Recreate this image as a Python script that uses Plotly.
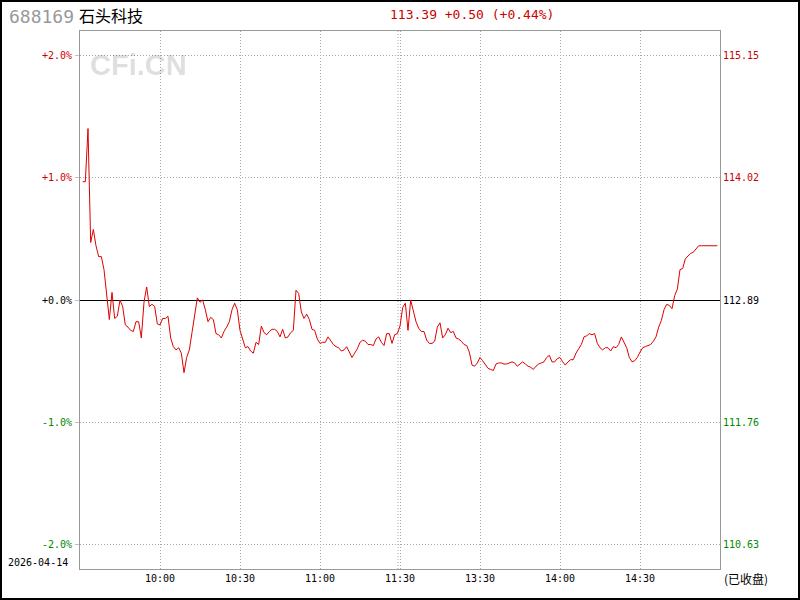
import plotly.graph_objects as go

# ---------------- data ----------------
stock_code = "688169"
stock_name = "石头科技"
trade_date = "2026-04-14"
status_text = "(已收盘)"
prev_close = 112.89

times = [
    "09:31", "09:32", "09:33", "09:34", "09:35", "09:36", "09:37", "09:38", "09:39", "09:40",
    "09:41", "09:42", "09:43", "09:44", "09:45", "09:46", "09:47", "09:48", "09:49", "09:50",
    "09:51", "09:52", "09:53", "09:54", "09:55", "09:56", "09:57", "09:58", "09:59", "10:00",
    "10:01", "10:02", "10:03", "10:04", "10:05", "10:06", "10:07", "10:08", "10:09", "10:10",
    "10:11", "10:12", "10:13", "10:14", "10:15", "10:16", "10:17", "10:18", "10:19", "10:20",
    "10:21", "10:22", "10:23", "10:24", "10:25", "10:26", "10:27", "10:28", "10:29", "10:30",
    "10:31", "10:32", "10:33", "10:34", "10:35", "10:36", "10:37", "10:38", "10:39", "10:40",
    "10:41", "10:42", "10:43", "10:44", "10:45", "10:46", "10:47", "10:48", "10:49", "10:50",
    "10:51", "10:52", "10:53", "10:54", "10:55", "10:56", "10:57", "10:58", "10:59", "11:00",
    "11:01", "11:02", "11:03", "11:04", "11:05", "11:06", "11:07", "11:08", "11:09", "11:10",
    "11:11", "11:12", "11:13", "11:14", "11:15", "11:16", "11:17", "11:18", "11:19", "11:20",
    "11:21", "11:22", "11:23", "11:24", "11:25", "11:26", "11:27", "11:28", "11:29", "11:30",
    "13:01", "13:02", "13:03", "13:04", "13:05", "13:06", "13:07", "13:08", "13:09", "13:10",
    "13:11", "13:12", "13:13", "13:14", "13:15", "13:16", "13:17", "13:18", "13:19", "13:20",
    "13:21", "13:22", "13:23", "13:24", "13:25", "13:26", "13:27", "13:28", "13:29", "13:30",
    "13:31", "13:32", "13:33", "13:34", "13:35", "13:36", "13:37", "13:38", "13:39", "13:40",
    "13:41", "13:42", "13:43", "13:44", "13:45", "13:46", "13:47", "13:48", "13:49", "13:50",
    "13:51", "13:52", "13:53", "13:54", "13:55", "13:56", "13:57", "13:58", "13:59", "14:00",
    "14:01", "14:02", "14:03", "14:04", "14:05", "14:06", "14:07", "14:08", "14:09", "14:10",
    "14:11", "14:12", "14:13", "14:14", "14:15", "14:16", "14:17", "14:18", "14:19", "14:20",
    "14:21", "14:22", "14:23", "14:24", "14:25", "14:26", "14:27", "14:28", "14:29", "14:30",
    "14:31", "14:32", "14:33", "14:34", "14:35", "14:36", "14:37", "14:38", "14:39", "14:40",
    "14:41", "14:42", "14:43", "14:44", "14:45", "14:46", "14:47", "14:48", "14:49", "14:50",
    "14:51", "14:52", "14:53", "14:54", "14:55", "14:56", "14:57", "14:58", "14:59",
]

prices = [
    113.98, 113.98, 114.47, 113.42, 113.54, 113.39, 113.29, 113.29, 113.17, 112.92,
    112.71, 112.96, 112.72, 112.74, 112.89, 112.83, 112.66, 112.64, 112.61, 112.60,
    112.69, 112.69, 112.54, 112.87, 113.01, 112.83, 112.85, 112.83, 112.67, 112.66,
    112.72, 112.72, 112.74, 112.54, 112.46, 112.43, 112.45, 112.40, 112.22, 112.36,
    112.43, 112.59, 112.75, 112.91, 112.87, 112.89, 112.80, 112.69, 112.73, 112.71,
    112.58, 112.57, 112.54, 112.60, 112.64, 112.69, 112.80, 112.86, 112.80, 112.61,
    112.53, 112.45, 112.46, 112.42, 112.40, 112.50, 112.48, 112.65, 112.59, 112.57,
    112.60, 112.62, 112.62, 112.60, 112.55, 112.62, 112.54, 112.55, 112.59, 112.61,
    112.98, 112.95, 112.78, 112.72, 112.76, 112.71, 112.62, 112.61, 112.53, 112.49,
    112.50, 112.50, 112.55, 112.51, 112.48, 112.46, 112.45, 112.42, 112.43, 112.46,
    112.41, 112.36, 112.40, 112.44, 112.50, 112.52, 112.51, 112.48, 112.48, 112.47,
    112.53, 112.55, 112.50, 112.47, 112.58, 112.58, 112.49, 112.57, 112.58, 112.65,
    112.82, 112.86, 112.61, 112.89, 112.79, 112.69, 112.63, 112.60, 112.60, 112.52,
    112.49, 112.49, 112.51, 112.64, 112.68, 112.54, 112.57, 112.63, 112.59, 112.60,
    112.54, 112.53, 112.51, 112.48, 112.47, 112.41, 112.29, 112.28, 112.31, 112.36,
    112.33, 112.30, 112.26, 112.25, 112.24, 112.30, 112.31, 112.31, 112.30, 112.30,
    112.31, 112.32, 112.31, 112.28, 112.30, 112.32, 112.30, 112.28, 112.27, 112.25,
    112.28, 112.30, 112.31, 112.32, 112.36, 112.38, 112.32, 112.32, 112.35, 112.36,
    112.32, 112.29, 112.32, 112.34, 112.34, 112.40, 112.44, 112.48, 112.55, 112.56,
    112.58, 112.57, 112.58, 112.49, 112.45, 112.43, 112.45, 112.45, 112.42, 112.46,
    112.45, 112.48, 112.55, 112.50, 112.45, 112.36, 112.32, 112.33, 112.36, 112.41,
    112.45, 112.46, 112.47, 112.48, 112.51, 112.55, 112.64, 112.70, 112.80, 112.85,
    112.84, 112.81, 112.93, 112.99, 113.17, 113.18, 113.27, 113.30, 113.32, 113.33,
    113.36, 113.39, 113.39, 113.39, 113.39, 113.39, 113.39, 113.39, 113.39,
]

pct_levels = [2, 1, 0, -1, -2]
left_labels = ["+2.0%", "+1.0%", "+0.0%", "-1.0%", "-2.0%"]
right_labels = ["115.15", "114.02", "112.89", "111.76", "110.63"]
x_tick_labels = ["10:00", "10:30", "11:00", "11:30", "13:30", "14:00", "14:30"]
watermark = "CFi.CN"

# ---------------- styling ----------------
UP = "#cc0000"
DOWN = "#008800"
FLAT = "#000000"
LINE = "#e00000"
GRID = "#a8a8a8"
FRAME = "#999999"
MONO = "DejaVu Sans Mono"
CJK = "Noto Sans CJK SC"
W, H = 800, 600
ML, MR, MT, MB = 80, 80, 31, 31
SPAN = 2.196  # percent shown above/below previous close


def session_minute(t):
    h, m = map(int, t.split(":"))
    v = h * 60 + m
    return v - 570 if v <= 690 else v - 780 + 120


def lvl_color(k):
    return UP if k > 0 else (DOWN if k < 0 else FLAT)


def px(x):
    return (x - ML) / (W - ML - MR)


def py(y):
    return (H - MB - y) / (H - MT - MB)


xs = [session_minute(t) for t in times]
level_prices = [prev_close * (1 + k / 100) for k in pct_levels]
grid_prices = [p for k, p in zip(pct_levels, level_prices) if k != 0]
y_lo = prev_close * (1 - SPAN / 100)
y_hi = prev_close * (1 + SPAN / 100)
half_px = (y_hi - y_lo) / (H - MT - MB) / 2  # align the base line on a pixel row
last = prices[-1]
chg = last - prev_close
chg_pct = chg / prev_close * 100
header = f"{last:.2f} {chg:+.2f} ({chg_pct:+.2f}%)"

fig = go.Figure()
fig.add_trace(go.Scatter(x=xs, y=prices, mode="lines",
                         line=dict(color=LINE, width=1), hoverinfo="skip",
                         showlegend=False))

left_text = [f'<span style="color:{lvl_color(k)}">{t}</span>'
             for k, t in zip(pct_levels, left_labels)]

fig.update_layout(
    width=W, height=H,
    margin=dict(l=ML, r=MR, t=MT, b=MB, pad=0),
    paper_bgcolor="white", plot_bgcolor="white",
    showlegend=False,
    xaxis=dict(range=[0, 240], tickvals=[session_minute(t) if t != "11:30" else 120 for t in x_tick_labels],
               ticktext=x_tick_labels, showgrid=True, gridcolor=GRID, griddash="1px,2px",
               gridwidth=1, zeroline=False, showline=True, mirror=True, linecolor=FRAME,
               linewidth=1, ticks="", tickfont=dict(family=MONO, size=10, color="black"),
               fixedrange=True),
    yaxis=dict(range=[y_lo, y_hi],
               tickvals=level_prices, ticktext=left_text, showgrid=False,
               zeroline=False, showline=True, mirror=True,
               linecolor=FRAME, linewidth=1, ticks="outside", ticklen=4, tickwidth=1,
               tickcolor="#c0c0c0", ticklabelstandoff=1,
               minor=dict(tickmode="array", tickvals=grid_prices, showgrid=True,
                          gridcolor=GRID, griddash="1px,2px", gridwidth=1, ticks=""),
               tickfont=dict(family=MONO, size=10, color="black"), fixedrange=True),
)

shapes = [
    dict(type="line", xref="paper", x0=0, x1=1, yref="y",
         y0=prev_close - half_px, y1=prev_close - half_px,
         line=dict(color="black", width=1), layer="between"),
    dict(type="line", xref="x", x0=119.25, x1=119.25, yref="paper", y0=0, y1=1,
         line=dict(color=GRID, width=1, dash="1px,2px"), layer="below"),
    dict(type="rect", xref="paper", yref="paper",
         x0=px(1), x1=px(W - 1), y0=py(H - 1), y1=py(1),
         line=dict(color="black", width=2), fillcolor="rgba(0,0,0,0)"),
]
fig.update_layout(shapes=shapes)

ann = []
for k, t, p in zip(pct_levels, right_labels, level_prices):
    ann.append(dict(xref="paper", yref="y", x=1, y=p, xshift=1, text=t, showarrow=False,
                    xanchor="left", yanchor="middle",
                    font=dict(family=MONO, size=10, color=lvl_color(k))))
ann += [
    dict(xref="paper", yref="paper", x=px(7), y=py(16), text=stock_code, showarrow=False,
         xanchor="left", yanchor="middle", font=dict(family=MONO, size=18, color="#999999")),
    dict(xref="paper", yref="paper", x=px(77), y=py(15), text=stock_name, showarrow=False,
         xanchor="left", yanchor="middle", font=dict(family=CJK, size=16, color="black")),
    dict(xref="paper", yref="paper", x=px(472), y=py(15), text=header, showarrow=False,
         xanchor="center", yanchor="middle", font=dict(family=MONO, size=13, color=UP)),
    dict(xref="paper", yref="paper", x=px(138.5), y=py(65), text=f"<b>{watermark}</b>",
         showarrow=False, xanchor="center", yanchor="middle",
         font=dict(family="Liberation Sans", size=29, color="rgba(0,0,0,0.15)")),
    dict(xref="paper", yref="paper", x=px(6), y=py(562), text=trade_date, showarrow=False,
         xanchor="left", yanchor="middle", font=dict(family=MONO, size=10, color="black")),
    dict(xref="paper", yref="paper", x=px(722), y=py(578), text=status_text, showarrow=False,
         xanchor="left", yanchor="middle", font=dict(family=CJK, size=12, color="black")),
]
fig.update_layout(annotations=ann)

fig.write_html("out.html", config={"displayModeBar": False, "staticPlot": True},
               post_script="document.body.style.margin='0';document.body.style.overflow='hidden';")
